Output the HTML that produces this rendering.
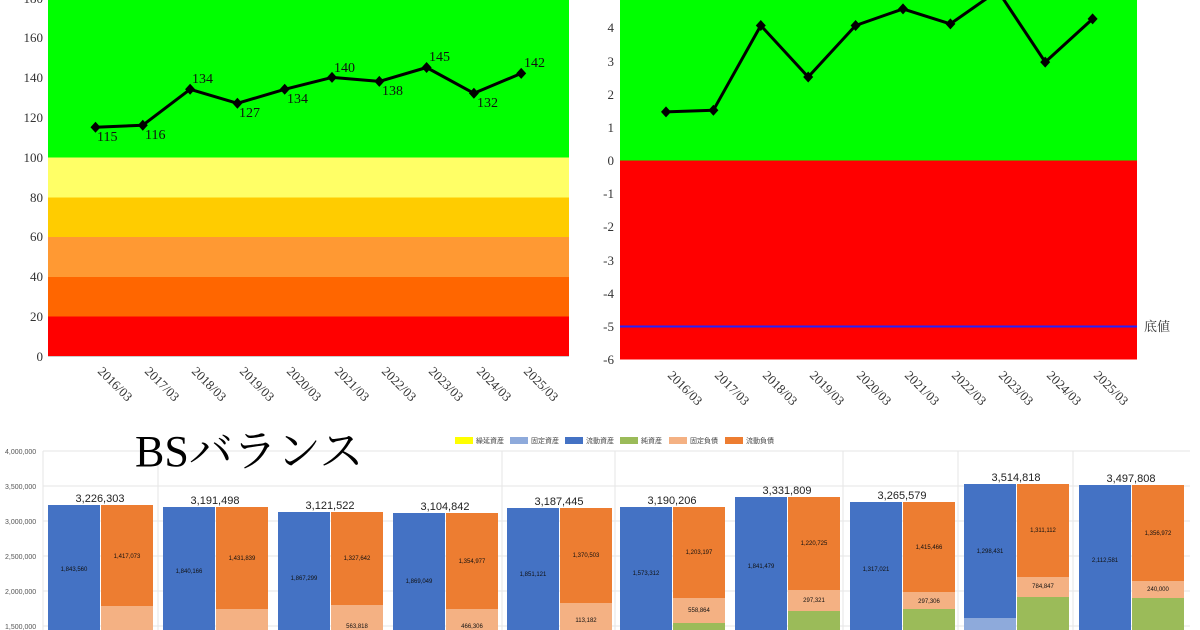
<!DOCTYPE html>
<html><head><meta charset="utf-8"><style>
html,body{margin:0;padding:0;background:#fff;}
svg{display:block;}
</style></head><body>
<svg width="1200" height="630" viewBox="0 0 1200 630" xmlns="http://www.w3.org/2000/svg">
<!-- LEFT CHART -->
<g>
<rect x="48" y="-5" width="521" height="162.5" fill="#00ff00"/>
<rect x="48" y="157.5" width="521" height="40" fill="#ffff66"/>
<rect x="48" y="197.5" width="521" height="39.5" fill="#ffcc00"/>
<rect x="48" y="237" width="521" height="40" fill="#ff9933"/>
<rect x="48" y="277" width="521" height="39.5" fill="#ff6600"/>
<rect x="48" y="316.5" width="521" height="40" fill="#ff0000"/>
<line x1="48" y1="356.5" x2="569" y2="356.5" stroke="#ccc" stroke-width="1"/>
<g font-family="Liberation Serif, serif" font-size="13" fill="#333" text-anchor="end">
<text x="43" y="3">180</text><text x="43" y="42">160</text><text x="43" y="82">140</text>
<text x="43" y="122">120</text><text x="43" y="162">100</text><text x="43" y="202">80</text>
<text x="43" y="241">60</text><text x="43" y="281">40</text><text x="43" y="321">20</text><text x="43" y="361">0</text>
</g>
<polyline fill="none" stroke="#000" stroke-width="3" stroke-linejoin="round" points="95.5,127.2 142.8,125.2 190.1,89.3 237.4,103.3 284.7,89.3 332,77.4 379.3,81.4 426.6,67.5 473.9,93.3 521.2,73.4"/>
<g fill="#000">
<path d="M95.5 121.7l5 5.5-5 5.5-5-5.5z"/><path d="M142.8 119.7l5 5.5-5 5.5-5-5.5z"/>
<path d="M190.1 83.8l5 5.5-5 5.5-5-5.5z"/><path d="M237.4 97.8l5 5.5-5 5.5-5-5.5z"/>
<path d="M284.7 83.8l5 5.5-5 5.5-5-5.5z"/><path d="M332 71.9l5 5.5-5 5.5-5-5.5z"/>
<path d="M379.3 75.9l5 5.5-5 5.5-5-5.5z"/><path d="M426.6 62l5 5.5-5 5.5-5-5.5z"/>
<path d="M473.9 87.8l5 5.5-5 5.5-5-5.5z"/><path d="M521.2 67.9l5 5.5-5 5.5-5-5.5z"/>
</g>
<g font-family="Liberation Serif, serif" font-size="14" fill="#111">
<text x="97" y="141">115</text><text x="145" y="139">116</text><text x="192" y="83">134</text>
<text x="239" y="117">127</text><text x="287" y="103">134</text><text x="334" y="72">140</text>
<text x="382" y="95">138</text><text x="429" y="61">145</text><text x="477" y="107">132</text><text x="524" y="67">142</text>
</g>
<g font-family="Liberation Serif, serif" font-size="13" fill="#333">
<text transform="translate(97,372) rotate(45)">2016/03</text>
<text transform="translate(144,372) rotate(45)">2017/03</text>
<text transform="translate(191,372) rotate(45)">2018/03</text>
<text transform="translate(239,372) rotate(45)">2019/03</text>
<text transform="translate(286,372) rotate(45)">2020/03</text>
<text transform="translate(334,372) rotate(45)">2021/03</text>
<text transform="translate(381,372) rotate(45)">2022/03</text>
<text transform="translate(428,372) rotate(45)">2023/03</text>
<text transform="translate(476,372) rotate(45)">2024/03</text>
<text transform="translate(523,372) rotate(45)">2025/03</text>
</g>
</g>
<!-- RIGHT CHART -->
<g>
<rect x="620" y="-40" width="517" height="200.5" fill="#00ff00"/>
<rect x="620" y="160.5" width="517" height="199" fill="#ff0000"/>
<line x1="620" y1="326.5" x2="1137" y2="326.5" stroke="#2222ff" stroke-width="2"/>
<text x="1144" y="331" font-family="Liberation Serif, 'Noto Serif CJK SC', serif" font-size="13" fill="#333">底値</text>
<g font-family="Liberation Serif, serif" font-size="13" fill="#333" text-anchor="end">
<text x="614" y="32">4</text><text x="614" y="66">3</text><text x="614" y="99">2</text>
<text x="614" y="132">1</text><text x="614" y="165">0</text><text x="614" y="198">-1</text>
<text x="614" y="231">-2</text><text x="614" y="265">-3</text><text x="614" y="298">-4</text>
<text x="614" y="331">-5</text><text x="614" y="364">-6</text>
</g>
<polyline fill="none" stroke="#000" stroke-width="3" stroke-linejoin="round" points="666,111.9 713.4,110.2 760.8,25.5 808.2,77 855.6,25.5 903,8.9 950.4,23.9 997.8,-9.3 1045.2,62.1 1092.6,18.9"/>
<g fill="#000">
<path d="M666 106.4l5 5.5-5 5.5-5-5.5z"/><path d="M713.4 104.7l5 5.5-5 5.5-5-5.5z"/>
<path d="M760.8 20l5 5.5-5 5.5-5-5.5z"/><path d="M808.2 71.5l5 5.5-5 5.5-5-5.5z"/>
<path d="M855.6 20l5 5.5-5 5.5-5-5.5z"/><path d="M903 3.4l5 5.5-5 5.5-5-5.5z"/>
<path d="M950.4 18.4l5 5.5-5 5.5-5-5.5z"/><path d="M1045.2 56.6l5 5.5-5 5.5-5-5.5z"/>
<path d="M1092.6 13.4l5 5.5-5 5.5-5-5.5z"/>
</g>
<g font-family="Liberation Serif, serif" font-size="13" fill="#333">
<text transform="translate(667,376) rotate(45)">2016/03</text>
<text transform="translate(714,376) rotate(45)">2017/03</text>
<text transform="translate(762,376) rotate(45)">2018/03</text>
<text transform="translate(809,376) rotate(45)">2019/03</text>
<text transform="translate(856,376) rotate(45)">2020/03</text>
<text transform="translate(904,376) rotate(45)">2021/03</text>
<text transform="translate(951,376) rotate(45)">2022/03</text>
<text transform="translate(998,376) rotate(45)">2023/03</text>
<text transform="translate(1046,376) rotate(45)">2024/03</text>
<text transform="translate(1093,376) rotate(45)">2025/03</text>
</g>
</g>
<!-- BOTTOM CHART -->
<g>
<g stroke="#e6e6e6" stroke-width="1">
<line x1="43" y1="451" x2="1190" y2="451"/><line x1="43" y1="486" x2="1190" y2="486"/>
<line x1="43" y1="521" x2="1190" y2="521"/><line x1="43" y1="556" x2="1190" y2="556"/>
<line x1="43" y1="591" x2="1190" y2="591"/><line x1="43" y1="626" x2="1190" y2="626"/>
<line x1="43" y1="451" x2="43" y2="630"/><line x1="158" y1="451" x2="158" y2="630"/>
<line x1="502" y1="451" x2="502" y2="630"/><line x1="615" y1="451" x2="615" y2="630"/>
<line x1="843" y1="451" x2="843" y2="630"/><line x1="958" y1="451" x2="958" y2="630"/>
<line x1="1073" y1="451" x2="1073" y2="630"/>
</g>
<g font-family="Liberation Sans, sans-serif" font-size="7" fill="#555">
<text x="5" y="454">4,000,000</text><text x="5" y="489">3,500,000</text><text x="5" y="524">3,000,000</text>
<text x="5" y="559">2,500,000</text><text x="5" y="594">2,000,000</text><text x="5" y="629">1,500,000</text>
</g>
<text x="135" y="466" font-family="Liberation Serif, 'Noto Serif CJK JP', serif" font-size="44" fill="#000">BSバランス</text>
<g font-family="Liberation Sans, 'Noto Sans CJK JP', sans-serif" font-size="7" fill="#444">
<rect x="455" y="437" width="18" height="7" fill="#ffff00"/><text x="476" y="443">繰延資産</text>
<rect x="510" y="437" width="18" height="7" fill="#8eaadb"/><text x="531" y="443">固定資産</text>
<rect x="565" y="437" width="18" height="7" fill="#4472c4"/><text x="586" y="443">流動資産</text>
<rect x="620" y="437" width="18" height="7" fill="#9bbb59"/><text x="641" y="443">純資産</text>
<rect x="669" y="437" width="18" height="7" fill="#f4b183"/><text x="690" y="443">固定負債</text>
<rect x="725" y="437" width="18" height="7" fill="#ed7d31"/><text x="746" y="443">流動負債</text>
</g>
<!-- bars: blue, orange, light orange, green, light blue -->
<g>
<rect x="48" y="505" width="52" height="130" fill="#4472c4"/><rect x="101" y="505" width="52" height="130" fill="#ed7d31"/><rect x="101" y="606" width="52" height="30" fill="#f4b183"/>
<rect x="163" y="507" width="52" height="130" fill="#4472c4"/><rect x="216" y="507" width="52" height="130" fill="#ed7d31"/><rect x="216" y="609" width="52" height="30" fill="#f4b183"/>
<rect x="278" y="512" width="52" height="130" fill="#4472c4"/><rect x="331" y="512" width="52" height="130" fill="#ed7d31"/><rect x="331" y="605" width="52" height="30" fill="#f4b183"/>
<rect x="393" y="513" width="52" height="130" fill="#4472c4"/><rect x="446" y="513" width="52" height="130" fill="#ed7d31"/><rect x="446" y="609" width="52" height="30" fill="#f4b183"/>
<rect x="507" y="508" width="52" height="130" fill="#4472c4"/><rect x="560" y="508" width="52" height="130" fill="#ed7d31"/><rect x="560" y="603" width="52" height="30" fill="#f4b183"/>
<rect x="620" y="507" width="52" height="130" fill="#4472c4"/><rect x="673" y="507" width="52" height="130" fill="#ed7d31"/><rect x="673" y="598" width="52" height="40" fill="#f4b183"/><rect x="673" y="623" width="52" height="10" fill="#9bbb59"/>
<rect x="735" y="497" width="52" height="140" fill="#4472c4"/><rect x="788" y="497" width="52" height="140" fill="#ed7d31"/><rect x="788" y="590" width="52" height="40" fill="#f4b183"/><rect x="788" y="611" width="52" height="20" fill="#9bbb59"/>
<rect x="850" y="502" width="52" height="140" fill="#4472c4"/><rect x="903" y="502" width="52" height="140" fill="#ed7d31"/><rect x="903" y="592" width="52" height="40" fill="#f4b183"/><rect x="903" y="609" width="52" height="22" fill="#9bbb59"/>
<rect x="964" y="484" width="52" height="150" fill="#4472c4"/><rect x="964" y="618" width="52" height="15" fill="#8eaadb"/><rect x="1017" y="484" width="52" height="150" fill="#ed7d31"/><rect x="1017" y="577" width="52" height="40" fill="#f4b183"/><rect x="1017" y="597" width="52" height="35" fill="#9bbb59"/>
<rect x="1079" y="485" width="52" height="150" fill="#4472c4"/><rect x="1132" y="485" width="52" height="150" fill="#ed7d31"/><rect x="1132" y="581" width="52" height="40" fill="#f4b183"/><rect x="1132" y="598" width="52" height="35" fill="#9bbb59"/>
</g>
<g font-family="Liberation Sans, sans-serif" font-size="11" fill="#222" text-anchor="middle">
<text x="100" y="502">3,226,303</text><text x="215" y="504">3,191,498</text><text x="330" y="509">3,121,522</text>
<text x="445" y="510">3,104,842</text><text x="559" y="505">3,187,445</text><text x="672" y="504">3,190,206</text>
<text x="787" y="494">3,331,809</text><text x="902" y="499">3,265,579</text><text x="1016" y="481">3,514,818</text><text x="1131" y="482">3,497,808</text>
</g>
<g font-family="Liberation Sans, sans-serif" font-size="6" fill="#111" text-anchor="middle">
<text x="74" y="571">1,843,560</text><text x="127" y="558">1,417,073</text>
<text x="189" y="573">1,840,166</text><text x="242" y="560">1,431,839</text>
<text x="304" y="580">1,867,299</text><text x="357" y="560">1,327,642</text><text x="357" y="628">563,818</text>
<text x="419" y="583">1,869,049</text><text x="472" y="563">1,354,977</text><text x="472" y="628">466,306</text>
<text x="533" y="576">1,851,121</text><text x="586" y="557">1,370,503</text><text x="586" y="622">113,182</text>
<text x="646" y="575">1,573,312</text><text x="699" y="554">1,203,197</text><text x="699" y="612">558,864</text>
<text x="761" y="568">1,841,479</text><text x="814" y="545">1,220,725</text><text x="814" y="602">297,321</text>
<text x="876" y="571">1,317,021</text><text x="929" y="549">1,415,466</text><text x="929" y="603">297,306</text>
<text x="990" y="553">1,298,431</text><text x="1043" y="532">1,311,112</text><text x="1043" y="588">784,847</text>
<text x="1105" y="562">2,112,581</text><text x="1158" y="535">1,356,972</text><text x="1158" y="591">240,000</text>
</g>
</g>
</svg>
</body></html>
